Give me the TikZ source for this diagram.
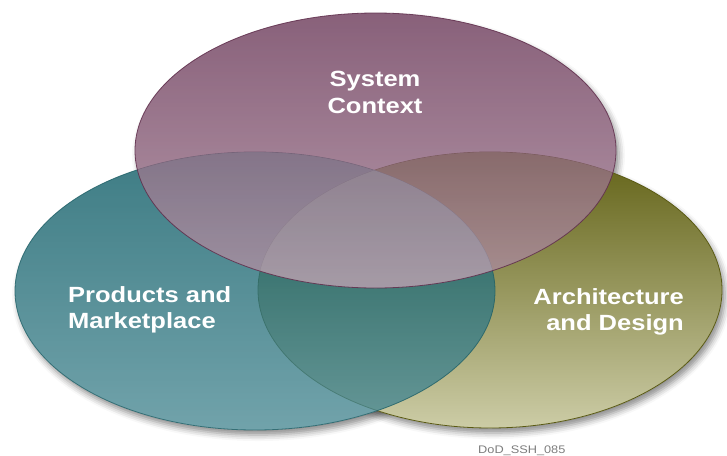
\documentclass[tikz,border=0pt]{standalone}
\usepackage{fontspec}
\setmainfont{Liberation Sans}[FakeStretch=1.16]
\usetikzlibrary{shadows.blur}
\definecolor{purpTop}{RGB}{97,44,78}
\definecolor{purpBot}{RGB}{160,122,144}
\definecolor{purpLine}{RGB}{95,45,75}
\definecolor{tealTop}{RGB}{14,92,102}
\definecolor{tealBot}{RGB}{78,140,150}
\definecolor{tealLine}{RGB}{30,95,102}
\definecolor{grnTop}{RGB}{98,98,22}
\definecolor{grnBot}{RGB}{204,204,166}
\definecolor{grnLine}{RGB}{90,90,20}
\definecolor{tagGray}{RGB}{125,125,125}
\tikzset{
  lbl/.style={font=\fontsize{22}{26.5}\selectfont\bfseries, text=white, inner sep=0pt},
  shad/.style={blur shadow={shadow xshift=3pt, shadow yshift=-5pt, shadow blur radius=6pt, shadow opacity=45}},
  ring/.style={line width=0.8pt}
}
\begin{document}
\begin{tikzpicture}[x=1pt,y=-1pt]
\useasboundingbox (0,0) rectangle (727,455);
\coordinate (P) at (375.5,150.5);
\coordinate (T) at (255,291);
\coordinate (G) at (490,290);
% shadows
\path[shad] (G) ellipse [x radius=232, y radius=138];
\path[shad] (T) ellipse [x radius=240, y radius=139];
\path[shad] (P) ellipse [x radius=240.5, y radius=137.5];
% white underlay
\fill[white] (G) ellipse [x radius=232, y radius=138];
\fill[white] (T) ellipse [x radius=240, y radius=139];
\fill[white] (P) ellipse [x radius=240.5, y radius=137.5];
% coloured ellipses
\shade[top color=grnTop, bottom color=grnBot] (G) ellipse [x radius=232, y radius=138];
\draw[ring, grnLine] (G) ellipse [x radius=232, y radius=138];
\shade[top color=tealTop, bottom color=tealBot, fill opacity=0.8] (T) ellipse [x radius=240, y radius=139];
\draw[ring, tealLine, opacity=0.8] (T) ellipse [x radius=240, y radius=139];
\shade[top color=purpTop, bottom color=purpBot, fill opacity=0.75] (P) ellipse [x radius=240.5, y radius=137.5];
% lighten the overlaps under the top ellipse
\begin{scope}
  \clip (P) ellipse [x radius=240.5, y radius=137.5];
  \fill[white, opacity=0.15] (T) ellipse [x radius=240, y radius=139];
  \fill[white, opacity=0.12] (G) ellipse [x radius=232, y radius=138];
\end{scope}
\draw[ring, purpLine, opacity=0.85] (P) ellipse [x radius=240.5, y radius=137.5];
% labels
\node[lbl, align=center, anchor=north] (sc) at (375,71) {System\\Context};
\node[lbl, align=left, anchor=north west] (pm) at (68,286) {Products and\\Marketplace};
\node[lbl, align=right, anchor=north east] (ad) at (684,288) {Architecture\\and Design};
\node[font=\fontsize{11}{13}\selectfont, text=tagGray, inner sep=0pt, anchor=base west] (tag) at (478,453) {DoD\_SSH\_085};
\end{tikzpicture}
\end{document}
